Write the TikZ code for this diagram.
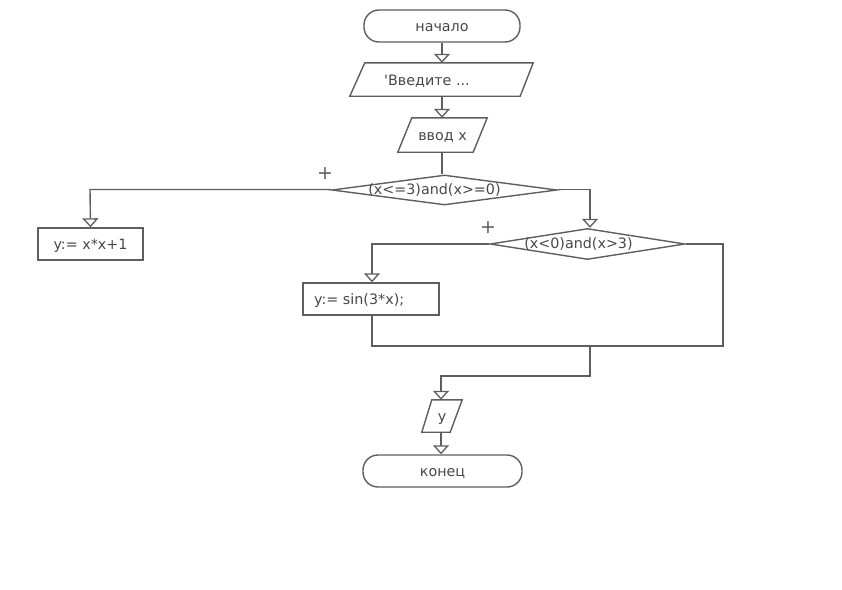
\documentclass[tikz,border=0pt]{standalone}
\usepackage{fontspec}
\setmainfont{DejaVu Sans}
\usetikzlibrary{arrows.meta,shapes.geometric,calc}
\definecolor{linec}{HTML}{5E5E5E}
\definecolor{textc}{HTML}{474747}
\tikzset{
  ln/.style={draw=linec, line width=1.4pt},
  arr/.style={ln, -{Triangle[width=16pt,length=9pt,fill=white,line width=1.3pt]}},
  lbl/.style={font=\fontsize{14.3}{16}\selectfont, text=textc},
  txt/.style={lbl, text height=11pt, text depth=0pt},
  term/.style={ln, rounded corners=15pt, inner sep=0pt, txt},
  procbox/.style={ln, rectangle, inner sep=0pt, txt},
  iobox/.style={rectangle, inner sep=0pt, txt},
  cond/.style={ln, diamond, inner sep=0pt, lbl},
  plus/.style={font=\fontsize{19}{19}\selectfont, text=linec, inner sep=0pt}
}
\newcommand{\drawio}[3]{\draw[ln] ([xshift=#2pt]#1.north west) -- (#1.north east) -- ([xshift=-#3pt]#1.south east) -- (#1.south west) -- cycle;}
\begin{document}
\begin{tikzpicture}[x=1pt,y=-1pt]
\useasboundingbox (0,0) rectangle (842,589);
% nodes
\node[term, minimum width=156pt, minimum height=32pt] (start) at (442,26) {начало};
\node[iobox, minimum width=183pt, minimum height=33pt] (in1) at (441.5,79.5) {};
\node[txt, anchor=west, inner sep=0pt] (in1t) at (384,80) {\textquotesingle Введите ...};
\node[iobox, minimum width=89pt, minimum height=34pt] (in2) at (442.5,135) {ввод x};
\node[cond, aspect=7.5, minimum width=225pt, minimum height=30pt,
      label={[lbl, xshift=-10pt, inner sep=0pt]center:(x<=3)and(x>=0)}] (d1) at (444.5,190) {};
\node[procbox, minimum width=105pt, minimum height=32pt] (b1) at (90.5,244) {y:= x*x+1};
\node[cond, aspect=6.3, minimum width=195pt, minimum height=31pt,
      label={[lbl, xshift=-9pt, inner sep=0pt]center:(x<0)and(x>3)}] (d2) at (587.5,244) {};
\node[procbox, minimum width=136pt, minimum height=32pt] (b2) at (371,299) {};
\node[txt, anchor=west, inner sep=0pt] (b2t) at (314,299) {y:= sin(3*x);};
\node[iobox, minimum width=40pt, minimum height=32pt] (out) at (442,416) {y};
\node[term, minimum width=159pt, minimum height=32pt] (end) at (442.5,471) {конец};
\node[plus] (p1) at (325,174) {+};
\node[plus] (p2) at (488,228) {+};
% coordinates
\coordinate (c1) at (90,189.5);
\coordinate (c2) at (590,189.5);
\coordinate (c3) at (372,244);
\coordinate (c4) at (723,244);
\coordinate (c5) at (723,346);
\coordinate (c6) at (372,346);
\coordinate (c7) at (590,346);
\coordinate (c8) at (590,376);
\coordinate (c9) at (441,376);
% io shapes
\drawio{in1}{15}{13}
\drawio{in2}{14}{14}
\drawio{out}{10}{12}
% connectors
\draw[arr] (start.south) -- (in1.north -| start.south);
\draw[arr] (in1.south -| start.south) -- (in2.north -| start.south);
\draw[ln] (in2.south -| start.south) -- (d1.north -| start.south);
\draw[arr] (d1.west |- c1) -- (c1) -- (b1.north);
\draw[arr] (d1.east |- c2) -- (c2) -- (d2.north -| c2);
\draw[arr] (d2.west) -- (c3) -- (b2.north -| c3);
\draw[ln] (d2.east) -- (c4) -- (c5) -- (c6) -- (b2.south -| c6);
\draw[arr] (c7) -- (c8) -- (c9) -- (out.north -| c9);
\draw[arr] (out.south -| c9) -- (end.north -| c9);
\end{tikzpicture}
\end{document}
